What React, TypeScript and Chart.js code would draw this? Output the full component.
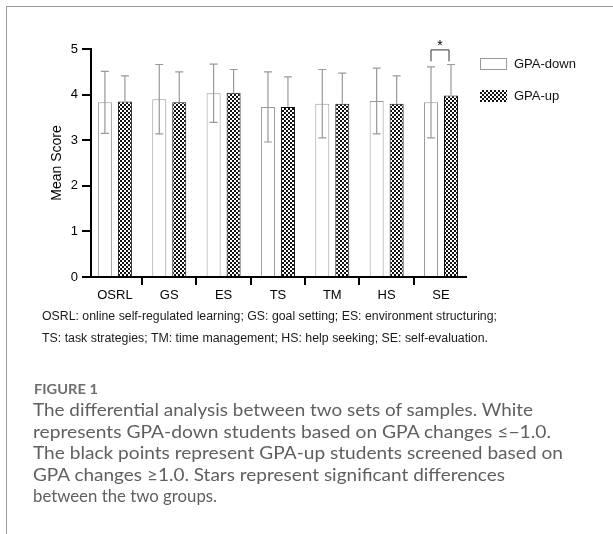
import React, { useEffect, useLayoutEffect, useRef } from 'react';
import { Chart, registerables } from 'chart.js';

Chart.register(...registerables);

// ---- Data ----
const categories = ['OSRL', 'GS', 'ES', 'TS', 'TM', 'HS', 'SE'];
const seriesNames = ['GPA-down', 'GPA-up'];
const meanDown = [3.83, 3.9, 4.03, 3.73, 3.8, 3.86, 3.83];
const sdDown = [0.68, 0.76, 0.64, 0.77, 0.75, 0.72, 0.78];
const meanUp = [3.85, 3.83, 4.04, 3.73, 3.8, 3.8, 3.98];
const sdUp = [0.56, 0.67, 0.51, 0.66, 0.67, 0.61, 0.68];
const significant = [false, false, false, false, false, false, true];
const yTicks = [0, 1, 2, 3, 4, 5];
const yTitle = 'Mean Score';

const abbrevLines = [
  'OSRL: online self-regulated learning; GS: goal setting; ES: environment structuring;',
  'TS: task strategies; TM: time management; HS: help seeking; SE: self-evaluation.',
];
const figureLabel = 'FIGURE 1';
const captionLines = [
  'The differential analysis between two sets of samples. White',
  'represents GPA-down students based on GPA changes \u2264\u22121.0.',
  'The black points represent GPA-up students screened based on',
  'GPA changes \u22651.0. Stars represent significant differences',
  'between the two groups.',
];

const AXIS_FONT = '"Liberation Sans", Arial, Helvetica, sans-serif';
const CAPTION_FONT = 'Lato, "Open Sans", "Noto Sans", sans-serif';

function makeChecker(ctx: CanvasRenderingContext2D) {
  const c = document.createElement('canvas');
  c.width = 4;
  c.height = 4;
  const g = c.getContext('2d')!;
  g.fillStyle = '#fff';
  g.fillRect(0, 0, 4, 4);
  g.fillStyle = '#111';
  g.fillRect(0, 0, 2, 2);
  g.fillRect(2, 2, 2, 2);
  return ctx.createPattern(c, 'repeat')!;
}

type FitProps = {
  x: number;
  cy: number;
  width: number;
  size: number;
  family: string;
  weight?: number;
  color: string;
  lh: number;
  text: string;
};

function FitText({ x, cy, width, size, family, weight, color, lh, text }: FitProps) {
  const ref = useRef<HTMLSpanElement>(null);
  useLayoutEffect(() => {
    const el = ref.current;
    if (!el) return;
    el.style.transform = 'none';
    const w = el.getBoundingClientRect().width;
    if (w > 0) el.style.transform = `scaleX(${width / w})`;
  }, [width, text]);
  return (
    <span
      ref={ref}
      style={{
        position: 'absolute',
        left: x,
        top: cy - lh / 2,
        lineHeight: lh + 'px',
        height: lh,
        fontSize: size,
        fontFamily: family,
        fontWeight: weight ?? 400,
        color,
        whiteSpace: 'nowrap',
        transformOrigin: '0 50%',
        display: 'inline-block',
      }}
    >
      {text}
    </span>
  );
}

export default function App() {
  const canvasRef = useRef<HTMLCanvasElement>(null);

  useEffect(() => {
    const canvas = canvasRef.current!;
    const ctx = canvas.getContext('2d')!;
    const checker = makeChecker(ctx);

    const errorBars = {
      id: 'errorBars',
      afterDatasetsDraw(chart: any) {
        const c = chart.ctx;
        const ys = chart.scales.y;
        const sets = [
          { m: chart.getDatasetMeta(0), mean: meanDown, sd: sdDown, lower: true },
          { m: chart.getDatasetMeta(1), mean: meanUp, sd: sdUp, lower: false },
        ];
        c.save();
        c.strokeStyle = '#999';
        c.lineWidth = 1.2;
        sets.forEach((s) => {
          s.m.data.forEach((bar: any, i: number) => {
            const x = bar.x;
            const top = ys.getPixelForValue(s.mean[i] + s.sd[i]);
            const bot = s.lower ? ys.getPixelForValue(s.mean[i] - s.sd[i]) : bar.y;
            c.beginPath();
            c.moveTo(x, top);
            c.lineTo(x, bot);
            c.moveTo(x - 4, top);
            c.lineTo(x + 4, top);
            if (s.lower) {
              c.moveTo(x - 4, bot);
              c.lineTo(x + 4, bot);
            }
            c.stroke();
          });
        });
        // significance brackets
        const m0 = chart.getDatasetMeta(0);
        const m1 = chart.getDatasetMeta(1);
        c.strokeStyle = '#333';
        c.lineWidth = 1;
        c.fillStyle = '#000';
        significant.forEach((sig, i) => {
          if (!sig) return;
          const xa = m0.data[i].x;
          const xb = m1.data[i].x - 2;
          const yTop = ys.getPixelForValue(4.98);
          const yLeg = ys.getPixelForValue(4.73);
          c.beginPath();
          c.moveTo(xa, yLeg);
          c.lineTo(xa, yTop);
          c.lineTo(xb, yTop);
          c.lineTo(xb, yLeg);
          c.stroke();
          c.font = `14px ${AXIS_FONT}`;
          c.textAlign = 'center';
          c.textBaseline = 'middle';
          c.fillText('*', (xa + xb) / 2, yTop - 4);
        });
        c.restore();
      },
    };

    const legendPlugin = {
      id: 'customLegend',
      afterDraw(chart: any) {
        const c = chart.ctx;
        const area = chart.chartArea;
        const bx = area.right + 14;
        const rows = [area.top + 9, area.top + 41];
        c.save();
        chart.data.datasets.forEach((ds: any, i: number) => {
          const by = rows[i];
          c.fillStyle = ds.backgroundColor;
          c.fillRect(bx, by, 27, 12);
          if (i === 0) {
            c.strokeStyle = '#999';
            c.lineWidth = 1;
            c.strokeRect(bx + 0.5, by + 0.5, 26, 11);
          }
          c.fillStyle = '#111';
          c.font = `13px ${AXIS_FONT}`;
          c.textAlign = 'left';
          c.textBaseline = 'middle';
          c.fillText(ds.label, bx + 34, by + 6.5);
        });
        c.restore();
      },
    };

    const chart = new Chart(canvas, {
      type: 'bar',
      data: {
        datasets: [
          {
            label: seriesNames[0],
            data: meanDown.map((v, i) => ({ x: i, y: v })),
            backgroundColor: '#fff',
            borderColor: '#999',
            borderWidth: 1,
            categoryPercentage: 0.736,
            barPercentage: 0.7,
          },
          {
            label: seriesNames[1],
            data: meanUp.map((v, i) => ({ x: i, y: v })),
            backgroundColor: checker as any,
            borderColor: '#111',
            borderWidth: 1,
            categoryPercentage: 0.736,
            barPercentage: 0.7,
          },
        ],
      },
      options: {
        responsive: false,
        devicePixelRatio: 1,
        animation: false,
        layout: { padding: { left: 46, top: 49, right: 147, bottom: 227 } },
        plugins: { legend: { display: false }, tooltip: { enabled: false } },
        scales: {
          x: {
            type: 'linear',
            offset: false,
            min: -0.44,
            max: 6.46,
            afterBuildTicks: (scale: any) => {
              scale.ticks = categories.map((_, i) => ({ value: i }));
            },
            afterFit: (scale: any) => {
              scale.height = 30;
            },
            border: { display: true, color: '#000', width: 2 },
            grid: {
              display: true,
              drawOnChartArea: false,
              drawTicks: true,
              tickLength: 8,
              color: '#000',
              lineWidth: 2,
            },
            ticks: {
              autoSkip: false,
              maxRotation: 0,
              padding: 3,
              color: '#000',
              font: { size: 13, family: AXIS_FONT },
              callback: (v: any) => categories[Math.round(Number(v))] ?? '',
            },
          },
          y: {
            min: yTicks[0],
            max: yTicks[yTicks.length - 1],
            afterBuildTicks: (scale: any) => {
              scale.ticks = yTicks.map((v) => ({ value: v }));
            },
            afterFit: (scale: any) => {
              scale.width = 45;
            },
            border: { display: true, color: '#000', width: 2 },
            grid: {
              display: true,
              drawOnChartArea: false,
              drawTicks: true,
              tickLength: 9,
              color: '#000',
              lineWidth: 2,
            },
            ticks: {
              padding: 4,
              color: '#000',
              font: { size: 13, family: AXIS_FONT },
            },
            title: {
              display: true,
              text: yTitle,
              color: '#000',
              font: { size: 14, family: AXIS_FONT },
              padding: { top: 3, bottom: 0 },
            },
          },
        },
      },
      plugins: [errorBars, legendPlugin],
    } as any);

    return () => chart.destroy();
  }, []);

  return (
    <div
      style={{
        position: 'absolute',
        left: 0,
        top: 0,
        width: 613,
        height: 534,
        background: '#fff',
        overflow: 'hidden',
      }}
    >
      <div
        style={{
          position: 'absolute',
          left: 6,
          top: 6,
          width: 700,
          height: 700,
          borderTop: '1.5px solid #9a9a9a',
          borderLeft: '1.5px solid #9a9a9a',
        }}
      />
      <canvas
        ref={canvasRef}
        width={613}
        height={534}
        style={{ position: 'absolute', left: 0, top: 0, width: 613, height: 534 }}
      />
      <FitText x={42} cy={316} width={455} size={12.5} family={AXIS_FONT} color="#1a1a1a" lh={15} text={abbrevLines[0]} />
      <FitText x={42} cy={338} width={446} size={12.5} family={AXIS_FONT} color="#1a1a1a" lh={15} text={abbrevLines[1]} />
      <FitText x={34} cy={389} width={64} size={13} family={CAPTION_FONT} weight={700} color="#6e6e6e" lh={16} text={figureLabel} />
      {captionLines.map((t, i) => (
        <FitText
          key={i}
          x={33}
          cy={[409, 431, 452, 474, 495][i]}
          width={[500, 518, 530, 472, 184][i]}
          size={18}
          family={CAPTION_FONT}
          color="#5f5f5f"
          lh={21}
          text={t}
        />
      ))}
    </div>
  );
}
